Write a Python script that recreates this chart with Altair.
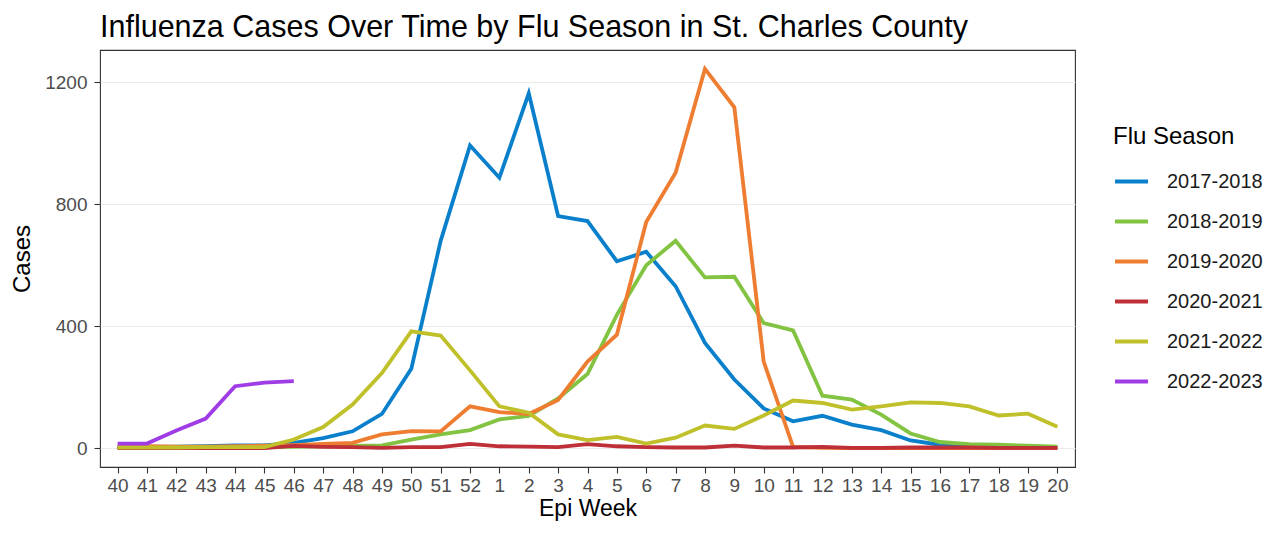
import altair as alt
import pandas as pd

weeks = ["40", "41", "42", "43", "44", "45", "46", "47", "48", "49", "50", "51", "52",
         "1", "2", "3", "4", "5", "6", "7", "8", "9", "10", "11", "12", "13", "14",
         "15", "16", "17", "18", "19", "20"]

seasons = ["2017-2018", "2018-2019", "2019-2020", "2020-2021", "2021-2022", "2022-2023"]

s2017_2018 = [3, 4, 5, 6, 9, 9, 17, 33, 55, 112, 260, 680, 993, 887, 1164, 761, 745, 613,
              644, 531, 345, 225, 130, 88, 106, 77, 59, 25, 11, 5, 3, 2, 1]
s2018_2019 = [1, 1, 2, 2, 3, 4, 4, 6, 7, 9, 28, 45, 59, 94, 106, 163, 243, 437, 600, 680,
              560, 562, 410, 386, 172, 159, 110, 48, 20, 13, 11, 8, 5]
s2019_2020 = [5, 6, 5, 5, 6, 8, 10, 14, 17, 45, 56, 55, 137, 118, 112, 158, 284, 372, 742,
              903, 1244, 1118, 284, 4, 1, 0, 0, 0, 0, 0, 0, 0, 0]
s2020_2021 = [0, 0, 0, 0, 0, 0, 7, 4, 3, 1, 3, 3, 14, 6, 5, 3, 13, 6, 3, 2, 2, 8, 2, 2, 4,
              1, 1, 2, 2, 2, 1, 1, 1]
s2021_2022 = [2, 2, 2, 3, 3, 3, 28, 69, 143, 246, 383, 369, 255, 137, 116, 45, 26, 37, 15,
              34, 74, 63, 107, 156, 148, 126, 137, 150, 148, 137, 107, 113, 70]
s2022_2023 = [15, 15, 58, 97, 203, 215, 220]

series = [s2017_2018, s2018_2019, s2019_2020, s2020_2021, s2021_2022, s2022_2023]
colors = ["#0A80CC", "#82C341", "#EE7D31", "#BE2F37", "#BFC02A", "#A03CE6"]

rows = []
for season, vals in zip(seasons, series):
    for w, v in zip(weeks, vals):
        rows.append({"week": w, "season": season, "cases": v})
df = pd.DataFrame(rows)

FONT = "Liberation Sans"

chart = alt.Chart(df).mark_line(strokeWidth=3.8).encode(
    x=alt.X("week:O", sort=weeks,
            scale=alt.Scale(type="point", padding=0.6),
            axis=alt.Axis(title="Epi Week", labelAngle=0, grid=False, domain=False,
                          tickColor="#333333", tickSize=6, tickWidth=1.1,
                          labelFontSize=19, labelColor="#4D4D4D", labelPadding=3,
                          titleFontSize=23, titleColor="#000000", titleFontWeight="normal",
                          titlePadding=2)),
    y=alt.Y("cases:Q",
            scale=alt.Scale(domain=[-62, 1306], nice=False, zero=False),
            axis=alt.Axis(title="Cases", values=[0, 400, 800, 1200], format="d",
                          grid=True, gridColor="#EBEBEB", gridWidth=1.2, domain=False,
                          tickColor="#333333", tickSize=6, tickWidth=1.1,
                          labelFontSize=19, labelColor="#4D4D4D", labelPadding=7,
                          titleFontSize=24, titleColor="#000000", titleFontWeight="normal",
                          titlePadding=10)),
    color=alt.Color("season:N",
                    scale=alt.Scale(domain=seasons, range=colors),
                    legend=alt.Legend(title="Flu Season", orient="none",
                                      legendX=1013, legendY=75,
                                      symbolType="stroke", symbolSize=1089,
                                      symbolStrokeWidth=4, labelFontSize=20,
                                      labelColor="#1A1A1A", labelOffset=17,
                                      titleFontSize=24, titleColor="#000000",
                                      titleFontWeight="normal", titlePadding=14,
                                      rowPadding=11, padding=0)),
).properties(
    width=975, height=417,
    title=alt.TitleParams("Influenza Cases Over Time by Flu Season in St. Charles County",
                          anchor="start", frame="group", fontSize=30.5,
                          fontWeight="normal", color="#000000", font=FONT,
                          baseline="bottom", offset=12, dy=35),
    autosize=alt.AutoSizeParams(type="none"),
    padding={"left": 92, "top": 42, "right": 191, "bottom": 58},
).configure(
    font=FONT,
).configure_view(
    stroke="#333333", strokeWidth=1.1,
)

chart.save("out.html", embed_options={"renderer": "svg", "actions": False})
